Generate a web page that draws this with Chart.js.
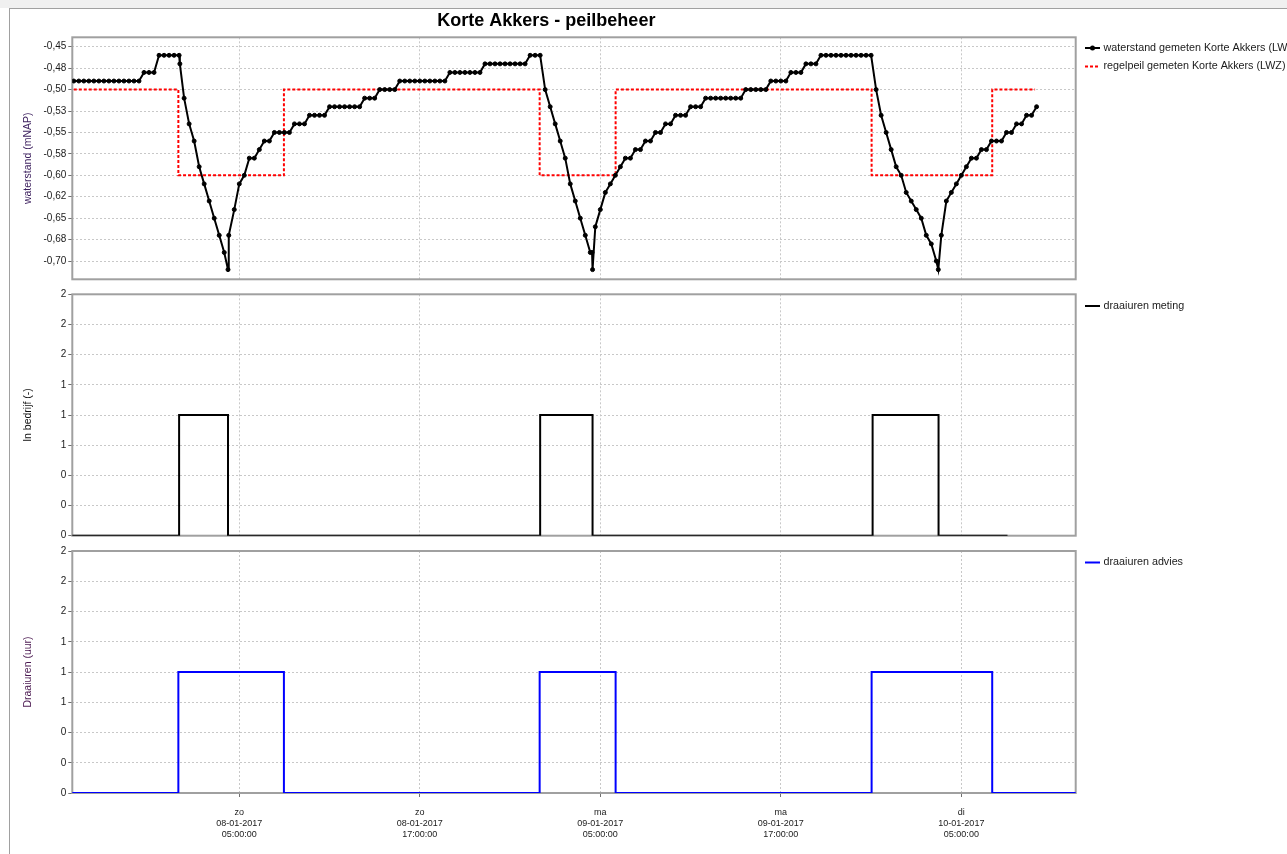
<!DOCTYPE html>
<html>
<head>
<meta charset="utf-8">
<title>Korte Akkers - peilbeheer</title>
<script src="https://cdn.jsdelivr.net/npm/chart.js@4.4.1/dist/chart.umd.min.js"></script>
<style>
	body { margin: 0; background: #fff; width: 1287px; height: 854px; overflow: hidden; }
	#strip { position: absolute; left: 0; top: 0; width: 1287px; height: 8px; background: #f0f0f0; }
	#frame { position: absolute; left: 9px; top: 8px; width: 1290px; height: 860px; border-left: 1px solid #a0a0a0; border-top: 1px solid #a0a0a0; }
	canvas { position: absolute; left: 0; top: 0; }
</style>
</head>
<body>
<div id="strip"></div>
<div id="frame"></div>
<canvas id="peilChart" width="1287" height="854"></canvas>
<canvas id="metingChart" width="1287" height="854"></canvas>
<canvas id="adviesChart" width="1287" height="854"></canvas>
<script>
// time in minutes since 08-01-2017 00:00
const xMin = -366;
const xMax = 3636;

const tickTimes = [300, 1020, 1740, 2460, 3180];
const tickLabels = [
	['zo', '08-01-2017', '05:00:00'],
	['zo', '08-01-2017', '17:00:00'],
	['ma', '09-01-2017', '05:00:00'],
	['ma', '09-01-2017', '17:00:00'],
	['di', '10-01-2017', '05:00:00']
];

const peilTicks = [-0.45, -0.475, -0.5, -0.525, -0.55, -0.575, -0.6, -0.625, -0.65, -0.675, -0.7];
const peilTickLabels = ['-0,45', '-0,48', '-0,50', '-0,53', '-0,55', '-0,58', '-0,60', '-0,62', '-0,65', '-0,68', '-0,70'];

const uurTicks = [0, 0.25, 0.5, 0.75, 1, 1.25, 1.5, 1.75, 2];
const uurTickLabels = ['0', '0', '0', '1', '1', '1', '2', '2', '2'];

// [minute, mNAP]
const waterstand = [
	[-360, -0.49], [-340, -0.49], [-320, -0.49], [-300, -0.49], [-280, -0.49], [-260, -0.49], [-240, -0.49],
	[-220, -0.49], [-200, -0.49], [-180, -0.49], [-160, -0.49], [-140, -0.49], [-120, -0.49], [-100, -0.49],
	[-80, -0.48], [-60, -0.48], [-40, -0.48],
	[-20, -0.46], [0, -0.46], [20, -0.46], [40, -0.46], [60, -0.46], [63, -0.47],
	[80, -0.51], [100, -0.54], [120, -0.56], [140, -0.59], [160, -0.61], [180, -0.63], [200, -0.65],
	[220, -0.67], [240, -0.69], [255, -0.71], [258, -0.67], [280, -0.64], [300, -0.61], [320, -0.60],
	[340, -0.58], [360, -0.58], [380, -0.57], [400, -0.56], [420, -0.56],
	[440, -0.55], [460, -0.55], [480, -0.55], [500, -0.55],
	[520, -0.54], [540, -0.54], [560, -0.54],
	[580, -0.53], [600, -0.53], [620, -0.53], [640, -0.53],
	[660, -0.52], [680, -0.52], [700, -0.52], [720, -0.52], [740, -0.52], [760, -0.52], [780, -0.52],
	[800, -0.51], [820, -0.51], [840, -0.51],
	[860, -0.50], [880, -0.50], [900, -0.50], [920, -0.50],
	[940, -0.49], [960, -0.49], [980, -0.49], [1000, -0.49], [1020, -0.49],
	[1040, -0.49], [1060, -0.49], [1080, -0.49], [1100, -0.49], [1120, -0.49],
	[1140, -0.48], [1160, -0.48], [1180, -0.48], [1200, -0.48], [1220, -0.48], [1240, -0.48], [1260, -0.48],
	[1280, -0.47], [1300, -0.47], [1320, -0.47], [1340, -0.47], [1360, -0.47],
	[1380, -0.47], [1400, -0.47], [1420, -0.47], [1440, -0.47],
	[1460, -0.46], [1480, -0.46], [1500, -0.46],
	[1520, -0.50], [1540, -0.52], [1560, -0.54], [1580, -0.56], [1600, -0.58], [1620, -0.61],
	[1640, -0.63], [1660, -0.65], [1680, -0.67], [1700, -0.69], [1707, -0.69], [1709, -0.71],
	[1720, -0.66], [1740, -0.64], [1760, -0.62], [1780, -0.61], [1800, -0.60], [1820, -0.59],
	[1840, -0.58], [1860, -0.58], [1880, -0.57], [1900, -0.57], [1920, -0.56], [1940, -0.56],
	[1960, -0.55], [1980, -0.55], [2000, -0.54], [2020, -0.54],
	[2040, -0.53], [2060, -0.53], [2080, -0.53],
	[2100, -0.52], [2120, -0.52], [2140, -0.52],
	[2160, -0.51], [2180, -0.51], [2200, -0.51], [2220, -0.51], [2240, -0.51], [2260, -0.51], [2280, -0.51], [2300, -0.51],
	[2320, -0.50], [2340, -0.50], [2360, -0.50], [2380, -0.50], [2400, -0.50],
	[2420, -0.49], [2440, -0.49], [2460, -0.49], [2480, -0.49],
	[2500, -0.48], [2520, -0.48], [2540, -0.48],
	[2560, -0.47], [2580, -0.47], [2600, -0.47],
	[2620, -0.46], [2640, -0.46], [2660, -0.46], [2680, -0.46], [2700, -0.46], [2720, -0.46],
	[2740, -0.46], [2760, -0.46], [2780, -0.46], [2800, -0.46], [2820, -0.46],
	[2840, -0.50], [2860, -0.53], [2880, -0.55], [2900, -0.57], [2920, -0.59], [2940, -0.60],
	[2960, -0.62], [2980, -0.63], [3000, -0.64], [3020, -0.65], [3040, -0.67], [3060, -0.68],
	[3080, -0.70], [3088, -0.71],
	[3100, -0.67], [3120, -0.63], [3140, -0.62], [3160, -0.61], [3180, -0.60], [3200, -0.59],
	[3220, -0.58], [3240, -0.58], [3260, -0.57], [3280, -0.57], [3300, -0.56], [3320, -0.56],
	[3340, -0.56], [3360, -0.55], [3380, -0.55], [3400, -0.54], [3420, -0.54], [3440, -0.53],
	[3460, -0.53], [3480, -0.52]
];

// each point holds its value until the next one
const regelpeil = [[-400, -0.50], [57, -0.60], [478, -0.50], [1498, -0.60], [1801, -0.50], [2822, -0.60], [3303, -0.50], [3474, -0.50]];
const draaiurenMeting = [[-400, 0], [60, 1], [255, 0], [1500, 1], [1709, 0], [2826, 1], [3089, 0], [3364, 0]];
const draaiurenAdvies = [[-400, 0], [57, 1], [478, 0], [1498, 1], [1801, 0], [2822, 1], [3303, 0], [3700, 0]];

const FONT = '"Liberation Sans", Arial, sans-serif';
const GRID = '#c8c8c8';
const TEXT = '#1a1a1a';

function toPoints(rows) {
	return rows.map(function(r) { return {x: r[0], y: r[1]}; });
}

// grey box round the plot area, under the lines
const areaBorder = {
	id: 'areaBorder',
	beforeDatasetsDraw: function(chart) {
		const a = chart.chartArea;
		const ctx = chart.ctx;
		ctx.save();
		ctx.strokeStyle = '#a0a0a0';
		ctx.lineWidth = 2;
		ctx.strokeRect(a.left, a.top, a.right - a.left, a.bottom - a.top);
		ctx.restore();
	}
};

// legend to the right of the plot, one row per dataset
const sideLegend = {
	id: 'sideLegend',
	afterDraw: function(chart, args, opts) {
		const ctx = chart.ctx;
		ctx.save();
		ctx.font = '10.75px ' + FONT;
		ctx.textBaseline = 'middle';
		chart.data.datasets.forEach(function(ds, i) {
			const y = opts.rows[i];
			ctx.strokeStyle = ds.borderColor;
			ctx.lineWidth = 2;
			ctx.setLineDash(ds.borderDash || []);
			ctx.beginPath();
			ctx.moveTo(opts.x, y);
			ctx.lineTo(opts.x + 15, y);
			ctx.stroke();
			ctx.setLineDash([]);
			if (ds.pointRadius) {
				ctx.fillStyle = ds.borderColor;
				ctx.beginPath();
				ctx.arc(opts.x + 7.5, y, 2.5, 0, Math.PI * 2);
				ctx.fill();
			}
			ctx.fillStyle = TEXT;
			ctx.fillText(ds.label, opts.x + 18.5, y);
		});
		ctx.restore();
	}
};

// axisHeight 0 keeps the plot edge where the layout padding puts it;
// labels are clipped to the axis box, so the bottom axis needs real height
function timeAxis(bottom, axisHeight) {
	return {
		type: 'linear',
		min: xMin,
		max: xMax,
		afterBuildTicks: function(s) { s.ticks = tickTimes.map(function(v) { return {value: v}; }); },
		afterFit: function(s) { s.height = axisHeight; },
		grid: { color: GRID, drawTicks: bottom, tickLength: 4, tickColor: '#707070' },
		border: { display: false, dash: [2, 2] },
		ticks: {
			display: bottom,
			autoSkip: false,
			maxRotation: 0,
			padding: 10.5,
			color: TEXT,
			font: { family: FONT, size: 9, lineHeight: 1.22 },
			callback: function(v) { return tickLabels[tickTimes.indexOf(v)]; }
		}
	};
}

function valueAxis(ticks, labels, min, max, title, titleColor) {
	return {
		type: 'linear',
		min: min,
		max: max,
		afterBuildTicks: function(s) { s.ticks = ticks.map(function(v) { return {value: v}; }); },
		afterFit: function(s) { s.width = 55.3; },
		grid: { color: GRID, tickLength: 4, tickColor: '#707070' },
		border: { display: false, dash: [2, 2] },
		ticks: {
			padding: 2,
			color: TEXT,
			font: { family: FONT, size: 10 },
			callback: function(v) { return labels[ticks.indexOf(v)]; }
		},
		title: {
			display: true,
			text: title,
			color: titleColor,
			font: { family: FONT, size: 10.5 },
			padding: { top: 4.7, bottom: 0 }
		}
	};
}

function makeChart(id, datasets, y, padTop, padBottom, x, legendRows, title) {
	return new Chart(document.getElementById(id), {
		type: 'line',
		data: { datasets: datasets },
		plugins: [areaBorder, sideLegend],
		options: {
			responsive: false,
			animation: false,
			events: [],
			devicePixelRatio: 1,
			layout: { padding: { left: 17, right: 211.3, top: padTop, bottom: padBottom } },
			scales: { x: x, y: y },
			plugins: {
				legend: { display: false },
				tooltip: { enabled: false },
				sideLegend: { x: 1085, rows: legendRows },
				title: title || { display: false }
			}
		}
	});
}

makeChart('peilChart', [{
	label: 'waterstand gemeten Korte Akkers (LWZ)',
	data: toPoints(waterstand),
	borderColor: '#000000',
	backgroundColor: '#000000',
	borderWidth: 2,
	pointRadius: 2,
	pointBorderWidth: 1,
	pointHoverRadius: 0
}, {
	label: 'regelpeil gemeten Korte Akkers (LWZ)',
	data: toPoints(regelpeil),
	borderColor: '#ff0000',
	borderWidth: 2,
	borderDash: [3, 2],
	pointRadius: 0,
	stepped: 'before'
}], valueAxis(peilTicks, peilTickLabels, -0.7213, -0.439, 'waterstand (mNAP)', '#3a1d5c'),
0, 574.7, timeAxis(false, 0), [48, 66.5], {
	display: true,
	text: 'Korte Akkers - peilbeheer',
	color: '#000000',
	font: { family: FONT, size: 18, weight: 'bold', lineHeight: 1.2 },
	padding: { top: 10, bottom: 5.7 }
});

makeChart('metingChart', [{
	label: 'draaiuren meting',
	data: toPoints(draaiurenMeting),
	borderColor: '#000000',
	borderWidth: 2,
	pointRadius: 0,
	stepped: 'before'
}], valueAxis(uurTicks, uurTickLabels, 0, 2, 'In bedrijf (-)', '#111111'),
294.3, 318.3, timeAxis(false, 0), [306]);

makeChart('adviesChart', [{
	label: 'draaiuren advies',
	data: toPoints(draaiurenAdvies),
	borderColor: '#0000ff',
	borderWidth: 2,
	pointRadius: 0,
	stepped: 'before'
}], valueAxis(uurTicks, uurTickLabels, 0, 2, 'Draaiuren (uur)', '#4a1850'),
551, 0, timeAxis(true, 61), [562.5]);
</script>
</body>
</html>
